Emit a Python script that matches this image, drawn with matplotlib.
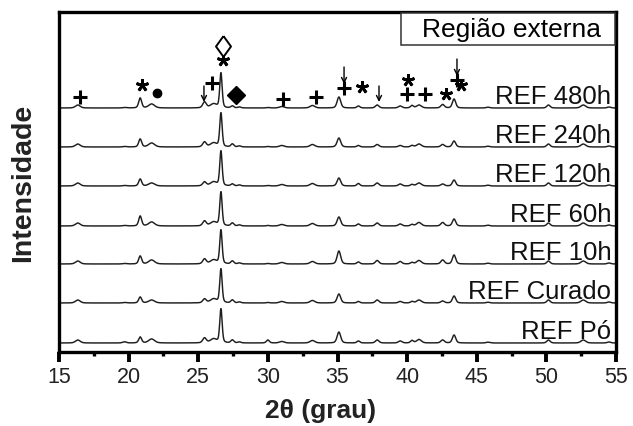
import numpy as np
import matplotlib
matplotlib.use('Agg')
import matplotlib.pyplot as plt
from matplotlib.patches import Rectangle

plt.rcParams['font.family'] = ['Liberation Sans', 'DejaVu Sans']

# ---- data ----
samples = ["REF Pó", "REF Curado", "REF 10h", "REF 60h", "REF 120h", "REF 240h", "REF 480h"]
offsets = [9, 49, 88, 126, 166, 205, 244]

peak_pos  = [16.35, 19.7, 20.83, 21.65, 25.45, 26.1, 26.63, 27.45, 27.95, 30.0, 31.0, 33.2,
             35.1, 36.5, 37.85, 39.5, 40.35, 40.85, 42.55, 43.37, 45.8, 50.15, 52.65, 54.5]
peak_fwhm = [0.4, 0.3, 0.25, 0.5, 0.3, 0.55, 0.2, 0.25, 0.25, 0.25, 0.4, 0.4,
             0.3, 0.25, 0.3, 0.3, 0.25, 0.4, 0.3, 0.28, 0.3, 0.28, 0.4, 0.3]

h_po     = [3, 1.2, 6, 4, 5, 4, 34, 3, 1, 3, 1.5, 2.5, 11, 2, 3, 2, 2.5, 3.5, 3, 8, 0.8, 3, 3, 1]
h_curado = [3, 0.5, 6, 3, 4, 4, 34, 3, 1, 0.5, 1.5, 2.5, 9, 1.5, 3, 1.5, 1.5, 3, 2, 7, 0.8, 3, 3, 1]
h_10h    = [3, 0.5, 8, 4, 5, 4, 34, 3, 1, 0.5, 1.5, 2.5, 13, 2, 3.5, 2.5, 1.5, 3.5, 4, 9, 0.8, 3, 3, 1]
h_60h    = [3, 0.5, 10, 4, 5, 4, 34, 3, 1, 0.5, 1.5, 2.5, 9, 2, 3, 2, 1.5, 3.5, 3.5, 7, 0.8, 3, 3, 1]
h_120h   = [3, 0.5, 7, 3, 4, 4, 35, 2, 1, 0.5, 1.5, 2.5, 8, 2.5, 3, 2, 1.5, 3, 2, 6, 0.8, 3, 3, 1]
h_240h   = [3, 0.5, 8, 4, 5, 4, 34, 3, 1, 0.5, 1.5, 2.5, 9, 1.5, 2.5, 1.5, 1.5, 3, 2.5, 6, 0.8, 3, 3, 1]
h_480h   = [3, 0.5, 10, 4, 6, 4, 35, 2, 1, 0.5, 1.5, 2.5, 11, 2, 3, 2, 2.5, 3, 3.5, 9, 0.8, 3, 3, 1]
heights = [h_po, h_curado, h_10h, h_60h, h_120h, h_240h, h_480h]

two_theta = np.arange(15.0, 55.001, 0.02)

# annotations (2theta, y)
plus_marks = [(16.5, 255), (25.99, 269), (31.09, 253), (33.46, 255), (35.47, 264),
              (39.99, 258), (41.28, 258), (43.58, 272)]
star_marks = [(20.96, 267), (26.75, 292), (36.76, 265), (40.06, 272), (42.79, 258), (43.87, 267)]
dot_marks = [(22.04, 259)]
filled_diamonds = [(27.71, 257)]
open_diamonds = [(26.78, 306)]
arrows = [(25.41, 266, 250), (35.47, 285, 268), (37.98, 266, 250), (43.58, 293, 276)]

open_diamond_marker = [(0, 1), (0.72, 0), (0, -1), (-0.72, 0), (0, 1)]


def profile(pos, fwhm, h):
    y = np.zeros_like(two_theta)
    for p, w, a in zip(pos, fwhm, h):
        hw = w / 2.0
        lor = 1.0 / (1.0 + ((two_theta - p) / hw) ** 2)
        gau = np.exp(-np.log(2) * ((two_theta - p) / hw) ** 2)
        y += a * (0.35 * lor + 0.65 * gau)
    return y


fig = plt.figure(figsize=(6.33, 4.26), dpi=100)
ax = fig.add_axes([59 / 633, 1 - 352 / 426, 557 / 633, 340 / 426])

for name, off, h in zip(samples, offsets, heights):
    ax.plot(two_theta, off + profile(peak_pos, peak_fwhm, h), color='#1e1e1e', lw=1.05)
    ax.text(54.65, off + 4, name, ha='right', va='baseline', fontsize=18.5, color='#111111')

ax.plot([p[0] for p in plus_marks], [p[1] for p in plus_marks], ls='none', marker='+',
        ms=10, mew=2.2, color='black')
ax.plot([p[0] for p in star_marks], [p[1] for p in star_marks], ls='none', marker=(5, 2, 0),
        ms=9, mew=2.0, color='black')
ax.plot([p[0] for p in dot_marks], [p[1] for p in dot_marks], ls='none', marker='o',
        ms=6, color='black')
ax.plot([p[0] for p in filled_diamonds], [p[1] for p in filled_diamonds], ls='none', marker='D',
        ms=9.5, color='black')
ax.plot([p[0] for p in open_diamonds], [p[1] for p in open_diamonds], ls='none',
        marker=open_diamond_marker, ms=15, mfc='white', mec='black', mew=1.4)
for x, y0, y1 in arrows:
    ax.annotate('', xy=(x, y1), xytext=(x, y0),
                arrowprops=dict(arrowstyle='->', lw=1.0, color='black',
                                shrinkA=0, shrinkB=0, mutation_scale=9))

# title box
ax.add_patch(Rectangle(((401 - 59) / 557, (352 - 45) / 340), 214 / 557, 32 / 340,
                       transform=ax.transAxes, fc='white', ec='#333333', lw=1.1, zorder=5))
ax.text((511 - 59) / 557, (352 - 29.5) / 340, 'Região externa', transform=ax.transAxes,
        ha='center', va='center', fontsize=19, zorder=6)

ax.set_xlim(15, 55)
ax.set_ylim(0, 340)
ax.set_xticks(np.arange(15, 56, 5))
ax.set_xticks(np.arange(17.5, 55, 5), minor=True)
ax.set_yticks([])
ax.tick_params(axis='x', which='major', direction='out', length=7, width=2.8,
               labelsize=15.5, pad=4, labelcolor='#222222')
ax.tick_params(axis='x', which='minor', direction='out', length=3, width=2.4)
for s in ax.spines.values():
    s.set_linewidth(2.4)

ax.set_xlabel('2θ (grau)', fontsize=19, fontweight='bold', color='#222222')
ax.xaxis.set_label_coords((321 - 59) / 557, (352 - 399) / 340)
ax.set_ylabel('Intensidade', fontsize=20.5, fontweight='bold', color='#222222')
ax.yaxis.set_label_coords((36 - 59) / 557, (352 - 182.5) / 340)

fig.savefig('out.png', dpi=100)
